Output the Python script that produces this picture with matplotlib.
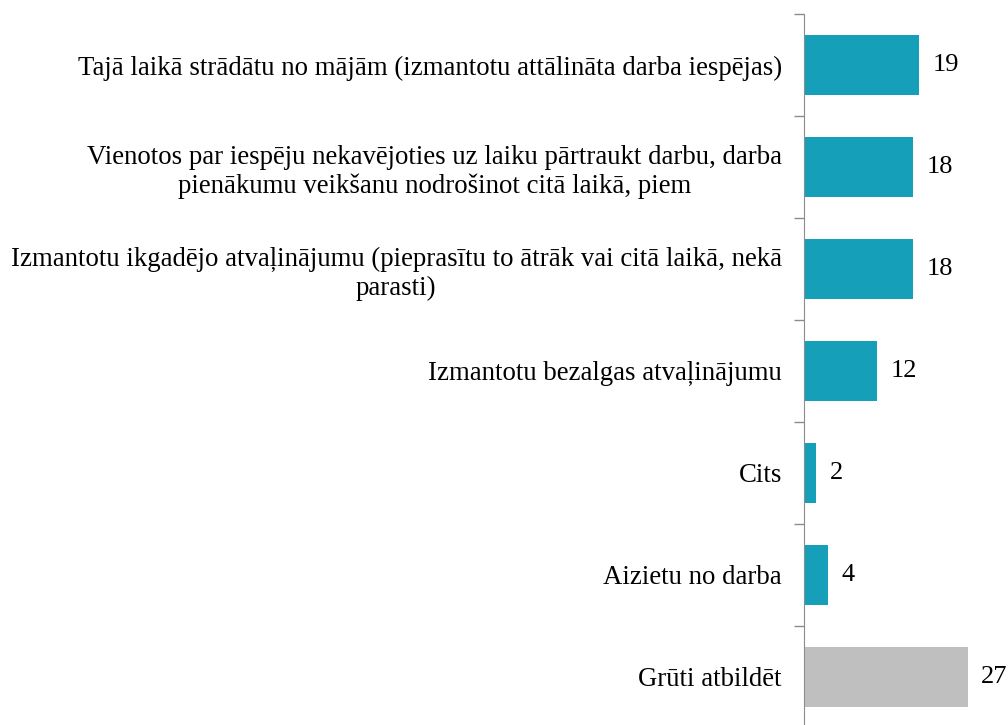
import numpy as np
import matplotlib.pyplot as plt

plt.rcParams['font.family'] = ['Liberation Serif', 'DejaVu Serif']

labels = [
    'Tajā laikā strādātu no mājām (izmantotu attālināta darba iespējas)',
    'Vienotos par iespēju nekavējoties uz laiku pārtraukt darbu, darba\npienākumu veikšanu nodrošinot citā laikā, piem',
    'Izmantotu ikgadējo atvaļinājumu (pieprasītu to ātrāk vai citā laikā, nekā\nparasti)',
    'Izmantotu bezalgas atvaļinājumu',
    'Cits',
    'Aizietu no darba',
    'Grūti atbildēt',
]
values = [19, 18, 18, 12, 2, 4, 27]
colors = ['#159fb8'] * 6 + ['#bfbfbf']

fig = plt.figure(figsize=(10.08, 7.25), dpi=100)
ax = fig.add_axes([804 / 1008, -3 / 725, 1 - 804 / 1008, 714 / 725])

y = np.arange(len(values))
ax.barh(y, values, height=0.58, color=colors)
ax.set_ylim(len(values) - 0.5, -0.5)
ax.set_xlim(0, 33.6)

for yi, v in zip(y, values):
    ax.text(v + 2.2, yi, str(v), va='center', ha='left', fontsize=19)

ax.set_yticks(y)
ax.set_yticklabels(labels, fontsize=19.3, multialignment='center', linespacing=1.2)
ax.tick_params(axis='y', which='major', length=0, pad=16)
ax.set_yticks(np.arange(-0.5, len(values), 1), minor=True)
ax.tick_params(axis='y', which='minor', length=7, color='#8c8c8c', width=1)

ax.set_xticks([])
for s in ['top', 'right', 'bottom']:
    ax.spines[s].set_visible(False)
ax.spines['left'].set_color('#8c8c8c')

fig.savefig('out.png', dpi=100)
